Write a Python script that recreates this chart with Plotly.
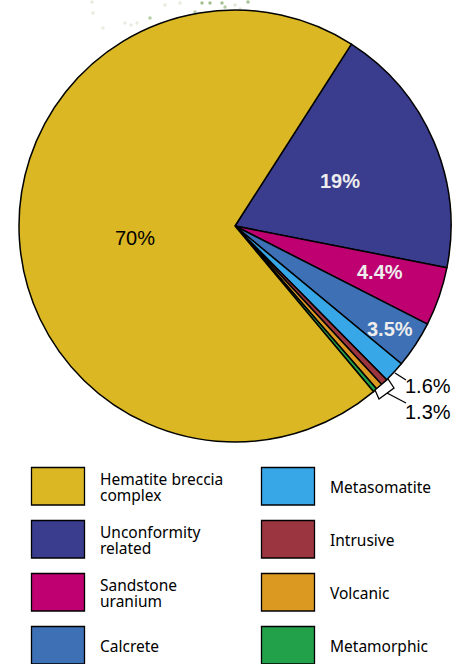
import plotly.graph_objects as go

categories = ["Unconformity related", "Sandstone uranium", "Calcrete", "Metasomatite",
              "Intrusive", "Volcanic", "Metamorphic", "Hematite breccia complex"]
values = [19, 4.4, 3.5, 1.6, 0.5, 0.5, 0.3, 70]
colors = ["#3A3C8E", "#BE0071", "#3D70B5", "#38A7E8", "#9B3641", "#DC9922", "#23A04A", "#DAB723"]

W, H = 462, 664
fig = go.Figure()
fig.add_trace(go.Pie(
    labels=categories, values=values, sort=False, direction="clockwise", rotation=32.6,
    marker=dict(colors=colors, line=dict(color="#000000", width=1.5)),
    textinfo="none", hoverinfo="label+percent", showlegend=False,
    domain=dict(x=[19 / W, 451 / W], y=[1 - 442 / H, 1 - 10 / H]),
))

# faint remnants of a map above the pie
speck_x = [150, 195, 202, 210, 222, 225, 248, 125, 131, 137, 165, 180, 235, 240, 92, 93, 103]
speck_y = [18, 12, 3, 3, 3, 7, 2, 23, 25, 23, 5, 3, 5, 9, 2, 13, 28]
speck_c = ["#B5CDA5", "#B5CDA5", "#A5C295", "#A5C295", "#A5C295", "#B5CDA5", "#A5C295", "#E6EDE0",
           "#E6EDE0", "#E6EDE0", "#E6EDE0", "#E6EDE0", "#E0E9D8", "#E0E9D8", "#E6EDE0", "#E6EDE0", "#E6EDE0"]
fig.add_trace(go.Scatter(x=speck_x, y=speck_y, mode="markers", hoverinfo="skip", showlegend=False,
                         marker=dict(size=3.5, color=speck_c, line=dict(width=0))))

shapes = []
# bracket and leaders
shapes.append(dict(type="path", xref="x", yref="y", path="M375,390 L388,379 L394,388 L379,399 Z",
                   fillcolor="#FFFFFF", line=dict(color="#000000", width=1.3)))
for x0, y0, x1, y1 in [(395, 373, 406, 380), (387, 393, 406, 403)]:
    shapes.append(dict(type="line", xref="x", yref="y", x0=x0, y0=y0, x1=x1, y1=y1,
                       line=dict(color="#000000", width=1.3)))

annotations = []
def txt(x, y, s, size, color="#000000", font="Liberation Sans", anchor="left", bold=False):
    annotations.append(dict(xref="x", yref="y", x=x, y=y, text=f"<b>{s}</b>" if bold else s,
                            showarrow=False, xanchor=anchor, yanchor="middle",
                            font=dict(family=font, size=size, color=color)))

pct_labels = ["70%", "19%", "4.4%", "3.5%", "1.6%", "1.3%"]
txt(135, 238, pct_labels[0], 20, anchor="center")
txt(340, 181, pct_labels[1], 20, "#EDEDED", anchor="center", bold=True)
txt(380, 272, pct_labels[2], 20, "#EDEDED", anchor="center", bold=True)
txt(390, 329, pct_labels[3], 20, "#EDEDED", anchor="center", bold=True)
txt(403, 386, pct_labels[4], 20)
txt(403, 412, pct_labels[5], 20)

legend_items = [
    ("#DAB723", ["Hematite breccia", "complex"]),
    ("#3A3C8E", ["Unconformity", "related"]),
    ("#BE0071", ["Sandstone", "uranium"]),
    ("#3D70B5", ["Calcrete"]),
    ("#38A7E8", ["Metasomatite"]),
    ("#9B3641", ["Intrusive"]),
    ("#DC9922", ["Volcanic"]),
    ("#23A04A", ["Metamorphic"]),
]
rows_y = [467, 520, 573, 626]
for i, (col, lines) in enumerate(legend_items):
    c, r = i // 4, i % 4
    x0 = 31.5 if c == 0 else 261.5
    tx = 98 if c == 0 else 328
    y0 = rows_y[r]
    shapes.append(dict(type="rect", xref="x", yref="y", x0=x0, x1=x0 + 53, y0=y0 + 0.5, y1=y0 + 38,
                       fillcolor=col, line=dict(color="#000000", width=1.3)))
    mid = y0 + 20
    if len(lines) == 2:
        txt(tx, mid - 8, lines[0], 15.5, font="Noto Sans")
        txt(tx, mid + 8, lines[1], 15.5, font="Noto Sans")
    else:
        txt(tx, mid, lines[0], 15.5, font="Noto Sans")

fig.update_layout(
    width=W, height=H, margin=dict(l=0, r=0, t=0, b=0),
    paper_bgcolor="#FFFFFF", plot_bgcolor="rgba(0,0,0,0)",
    xaxis=dict(range=[0, W], visible=False, fixedrange=True),
    yaxis=dict(range=[H, 0], visible=False, fixedrange=True),
    shapes=shapes, annotations=annotations,
)
fig.write_html("out.html", config=dict(displayModeBar=False),
               post_script="document.body.style.margin='0';document.documentElement.style.overflow='hidden';")
